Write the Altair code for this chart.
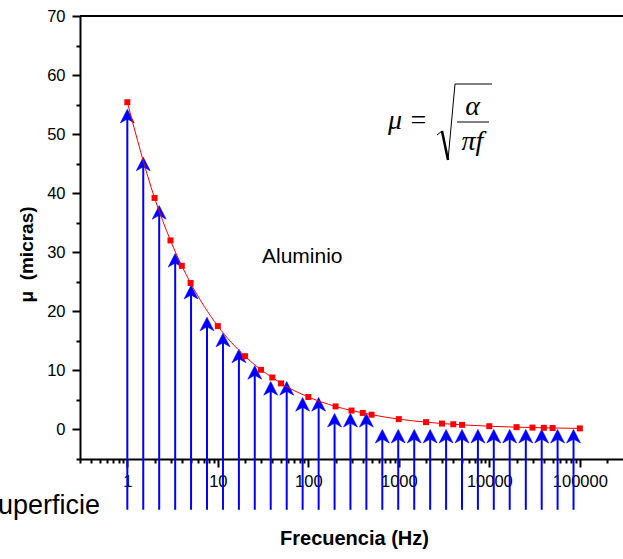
import altair as alt
import pandas as pd

# ---- data ----
freq = [1, 2, 3, 4, 5, 10, 20, 30, 40, 50, 100, 200, 300, 400, 500,
        1000, 2000, 3000, 4000, 5000, 10000, 20000, 30000, 40000, 50000, 100000]
mu = [55.4, 39.2, 32.0, 27.7, 24.8, 17.5, 12.4, 10.1, 8.8, 7.8, 5.5, 3.9, 3.2, 2.8, 2.5,
      1.75, 1.24, 1.0, 0.88, 0.78, 0.55, 0.39, 0.32, 0.28, 0.25, 0.18]

arrow_f = [1, 1.5, 2.25, 3.38, 5.06, 7.59, 11.4, 17.1, 25.6, 38.4, 57.7, 86.5, 130, 195, 292,
           438, 657, 985, 1480, 2220, 3330, 4990, 7480, 11200, 16800, 25300, 37900, 56800, 85200]
arrow_tip = [54.2, 46.1, 37.9, 29.8, 24.4, 19.0, 16.3, 13.6, 10.8, 8.1, 8.1, 5.4, 5.4, 2.7, 2.7,
             2.7, 0, 0, 0, 0, 0, 0, 0, 0, 0, 0, 0, 0, 0]
arrow_base = [-13.6] * len(arrow_f)

x_ticks = [0.3, 0.4, 0.5, 0.6, 0.7, 0.8, 0.9,
           1, 2, 3, 4, 5, 6, 7, 8, 9,
           10, 20, 30, 40, 50, 60, 70, 80, 90,
           100, 200, 300, 400, 500, 600, 700, 800, 900,
           1000, 2000, 3000, 4000, 5000, 6000, 7000, 8000, 9000,
           10000, 20000, 30000, 40000, 50000, 60000, 70000, 80000, 90000,
           100000, 200000]
y_ticks = [-5, 0, 5, 10, 15, 20, 25, 30, 35, 40, 45, 50, 55, 60, 65, 70]

x_title = "Frecuencia (Hz)"
y_title = "\u03bc\u00a0\u00a0(micras)"
material = "Aluminio"
side_label = "Superficie"

W, H = 543, 443
PL, PT = 80, 16
SANS = "Liberation Sans"
SERIF = "Liberation Serif"

df_curve = pd.DataFrame({"f": freq, "mu": mu})
df_arrow = pd.DataFrame({"f": arrow_f, "tip": arrow_tip, "base": arrow_base})

major_test = "abs(log(datum.value)/LN10 - round(log(datum.value)/LN10)) < 0.001"

x_axis = alt.Axis(
    orient="bottom", values=x_ticks, grid=False,
    tickSize={"condition": {"test": major_test, "value": 8}, "value": 4},
    labelExpr=f"({major_test}) ? format(datum.value, 'd') : ''",
    labelOverlap=False, labelFlush=False, labelBound=False,
    labelPadding=6, labelFontSize=16.5,
    title=x_title, titleFontSize=20, titleFontWeight="bold",
    titleX=274, titleY=85, titleBaseline="alphabetic",
)
y_axis = alt.Axis(
    orient="left", values=y_ticks, grid=False,
    tickSize={"condition": {"test": "datum.value % 10 == 0", "value": 8}, "value": 4},
    labelExpr="datum.value % 10 == 0 ? datum.label : ''",
    labelOverlap=False, labelFlush=False, labelPadding=7, labelFontSize=16.5,
    title=y_title, titleFontSize=19, titleFontWeight="bold",
    titleX=-48, titleY=238, titleAngle=270, titleBaseline="alphabetic", titleAlign="center",
)
x_scale = alt.Scale(type="log", domain=[0.3, 300000], nice=False)
y_scale = alt.Scale(domain=[-5, 70], nice=False, zero=False)


def X(field):
    return alt.X(field, type="quantitative", scale=x_scale, axis=x_axis)


def Y(field):
    return alt.Y(field, type="quantitative", scale=y_scale, axis=y_axis)


shafts = alt.Chart(df_arrow).transform_calculate(top="datum.tip - 1.2").mark_rule(
    color="#0000ff", strokeWidth=2
).encode(x=X("f"), y=Y("base"), y2="top:Q")

heads = alt.Chart(df_arrow).mark_point(
    shape="M0,0L1.05,2.05L0,1.45L-1.05,2.05Z", size=175, filled=True, color="#0000ff",
    opacity=1, stroke="#0000ff", strokeWidth=0.6
).encode(x=X("f"), y=Y("tip"))

curve = alt.Chart(df_curve).mark_line(
    color="#ff0000", strokeWidth=1, interpolate="monotone"
).encode(x=X("f"), y=Y("mu"))

squares = alt.Chart(df_curve).mark_square(
    size=36, color="#ff0000", filled=True, opacity=1, strokeWidth=0
).encode(x=X("f"), y=Y("mu"))


def txt(label, x, y, size, font=SANS, style="normal", align="left", weight="normal"):
    return alt.Chart(pd.DataFrame({"t": [label]})).mark_text(
        font=font, fontSize=size, fontStyle=style, fontWeight=weight,
        align=align, baseline="alphabetic", color="black"
    ).encode(text="t:N", x=alt.value(x), y=alt.value(y))


def seg(x1, y1, x2, y2, w=1.0):
    return alt.Chart(pd.DataFrame({"a": [0]})).mark_rule(
        color="black", strokeWidth=w
    ).encode(x=alt.value(x1), y=alt.value(y1), x2=alt.value(x2), y2=alt.value(y2))


top_frame = seg(0, 0, W, 0, 2)

annotations = [
    txt(material, 262 - PL, 263 - PT, 21),
    txt(side_label, 100 - PL, 514 - PT, 27, align="right"),
    txt("\u03bc", 388 - PL, 129 - PT, 28, font=SERIF, style="italic"),
    txt("=", 418.5 - PL, 129 - PT, 28, font=SERIF, align="center"),
    txt("\u03b1", 472.5 - PL, 115 - PT, 28, font=SERIF, style="italic", align="center"),
    txt("\u03c0f", 472.5 - PL, 150 - PT, 28, font=SERIF, style="italic", align="center"),
    seg(457 - PL, 122 - PT, 489 - PL, 122 - PT, 1),
    seg(437 - PL, 135 - PT, 442 - PL, 131 - PT, 1),
    seg(442 - PL, 131 - PT, 448 - PL, 160 - PT, 2.5),
    seg(448 - PL, 160 - PT, 455 - PL, 84 - PT, 1),
    seg(455 - PL, 84 - PT, 492 - PL, 84 - PT, 1),
]

chart = alt.layer(shafts, heads, curve, squares, top_frame, *annotations).properties(
    width=W, height=H,
    padding={"left": PL, "top": PT, "right": 0, "bottom": 559 - PT - H},
    autosize=alt.AutoSizeParams(type="none"),
    background="white",
).configure_view(stroke=None).configure_axis(
    domainColor="black", domainWidth=2, tickColor="black", tickWidth=2,
    labelFont=SANS, labelColor="black", titleFont=SANS, titleColor="black",
)

chart.save("out.html", embed_options={"renderer": "svg", "actions": False})
